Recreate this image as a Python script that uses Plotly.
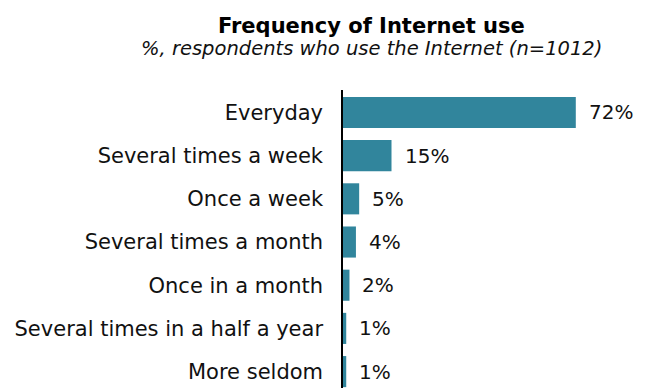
import plotly.graph_objects as go

# Survey answers: how often respondents use the Internet
categories = [
    "Everyday",
    "Several times a week",
    "Once a week",
    "Several times a month",
    "Once in a month",
    "Several times in a half a year",
    "More seldom",
]
shares = [72, 15, 5, 4, 2, 1, 1]
value_labels = [f"{v}%" for v in shares]

title_text = "Frequency of Internet use"
subtitle_text = "%, respondents who use the Internet (n=1012)"

BAR_COLOR = "#31859C"
FONT = "DejaVu Sans, Verdana, sans-serif"

fig = go.Figure(
    go.Bar(
        x=shares,
        y=categories,
        orientation="h",
        marker=dict(color=BAR_COLOR, line=dict(width=0)),
        width=0.72,
        hoverinfo="skip",
    )
)

# value labels placed just right of each bar end
for cat, val, lab in zip(categories, shares, value_labels):
    fig.add_annotation(
        x=val, y=cat, xref="x", yref="y",
        text=lab, showarrow=False,
        xanchor="left", yanchor="middle", xshift=11,
        font=dict(family=FONT, size=20, color="#111111"),
    )

W, H = 653, 388
L, T, B, R = 343, 90, 0, 19

def paper_x(px):
    return (px - L) / (W - L - R)

def paper_y(py):
    return (H - B - py) / (H - T - B)

fig.add_annotation(
    x=paper_x(371), y=paper_y(26), xref="paper", yref="paper",
    text=f"<b>{title_text}</b>", showarrow=False,
    xanchor="center", yanchor="middle",
    font=dict(family=FONT, size=21, color="#000000"),
)
fig.add_annotation(
    x=paper_x(371), y=paper_y(48), xref="paper", yref="paper",
    text=f"<i>{subtitle_text}</i>", showarrow=False,
    xanchor="center", yanchor="middle",
    font=dict(family=FONT, size=19.5, color="#111111"),
)

fig.update_layout(
    width=W, height=H,
    margin=dict(l=L, r=R, t=T, b=B, pad=0),
    paper_bgcolor="white", plot_bgcolor="white",
    showlegend=False,
    font=dict(family=FONT, color="#111111"),
    xaxis=dict(
        range=[0, 90], visible=False, fixedrange=True,
    ),
    yaxis=dict(
        type="category",
        categoryorder="array", categoryarray=categories,
        range=[6.38, -0.52],
        showline=True, linecolor="#000000", linewidth=1.5,
        showgrid=False, zeroline=False, ticks="",
        ticklabelstandoff=14,
        tickfont=dict(family=FONT, size=21, color="#111111"),
        fixedrange=True,
    ),
)

fig.write_html("out.html")
